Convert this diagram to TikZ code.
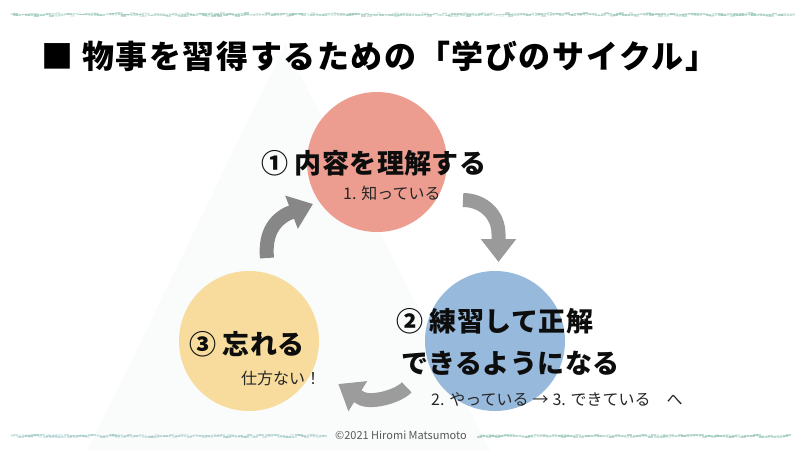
\documentclass[tikz,border=0pt]{standalone}
\usepackage{fontspec}
\setmainfont{Noto Sans CJK JP}
\usetikzlibrary{arrows.meta}
\definecolor{redc}{HTML}{EC9D8F}
\definecolor{bluec}{HTML}{97B9DB}
\definecolor{yelc}{HTML}{F7DC9E}
\definecolor{arrA}{HTML}{878787}
\definecolor{arrB}{HTML}{9A9A9A}
\definecolor{arrC}{HTML}{9C9C9C}
\definecolor{faint}{HTML}{FAFBFB}
\definecolor{brushA}{HTML}{7FB8AE}
\definecolor{brushB}{HTML}{A3CDB4}
\definecolor{brushC}{HTML}{8DBBD0}
\begin{document}
\begin{tikzpicture}[x=1pt,y=-1pt,
  cyc/.style={circle,inner sep=0pt,minimum size=140pt},
  lab/.style={font=\bfseries\fontsize{27}{30}\selectfont\addfontfeature{LetterSpace=1.5},inner sep=0pt,anchor=west,text=black!95},
  sublab/.style={font=\fontsize{16}{19}\selectfont,inner sep=0pt,anchor=west,text=black!85},
  cyarrow/.style={line width=14pt,-{Triangle[length=23pt,width=34pt]}}]
\useasboundingbox (0,0) rectangle (800,450);
\fill[white] (0,0) rectangle (800,450);
% faint background mountain
\fill[faint] (285,45) -- (88,450) -- (490,450) -- cycle;
% brush strokes
\pgfmathsetseed{7}
\foreach \i in {0,...,260} {
  \pgfmathsetmacro{\yy}{13.5+1.2*rand}
  \pgfmathsetmacro{\hh}{1+2*rnd}
  \pgfmathsetmacro{\op}{0.15+0.4*rnd}
  \fill[brushA,opacity=\op] (10+\i*3,\yy) rectangle ++(5,\hh);
  \pgfmathsetmacro{\yb}{13.5+1.2*rand}
  \pgfmathsetmacro{\ob}{0.1+0.3*rnd}
  \fill[brushB,opacity=\ob] (11+\i*3,\yb) rectangle ++(4,1.6);
}
\foreach \i in {0,...,104} {
  \pgfmathsetmacro{\yy}{435+1.3*rand}
  \pgfmathsetmacro{\op}{0.1+0.35*rnd}
  \fill[brushA,opacity=\op] (10+\i*3,\yy) rectangle ++(5,2);
  \pgfmathsetmacro{\yb}{435+1.3*rand}
  \fill[brushC,opacity=0.2] (11+\i*3,\yb) rectangle ++(4,1.5);
}
\foreach \i in {0,...,103} {
  \pgfmathsetmacro{\yy}{435+1*rand}
  \pgfmathsetmacro{\op}{0.15+0.4*rnd}
  \fill[brushA,opacity=\op] (477+\i*3,\yy) rectangle ++(5,2);
  \pgfmathsetmacro{\yb}{435+1*rand}
  \fill[brushB,opacity=0.25] (478+\i*3,\yb) rectangle ++(4,1.5);
}
% title
\node[font=\bfseries\fontsize{32}{36}\selectfont\addfontfeature{LetterSpace=5},inner sep=0pt,anchor=west] (title) at (41,56) {■ 物事を習得するための「学びのサイクル」};
% circles
\node[cyc,fill=redc] (c1) at (377,162) {};
\node[cyc,fill=bluec] (c2) at (495,341) {};
\node[cyc,fill=yelc] (c3) at (249,341) {};
% arrows
\coordinate (a1s) at (267,258);
\coordinate (a1e) at (313,204);
\draw[cyarrow,arrA] (a1s) .. controls (265.1,238) and (271,222) .. (288,213.5) -- (a1e);
\coordinate (a2s) at (463,200);
\coordinate (a2e) at (498.5,262);
\draw[cyarrow,arrB] (a2s) .. controls (482.5,200) and (498.5,214) .. (498.5,234) -- (a2e);
\coordinate (a3s) at (406.7,387.3);
\coordinate (a3e) at (338.3,384);
\draw[cyarrow,arrC] (a3s) .. controls (398.7,396.2) and (370.6,404.2) .. (360.4,397.8) -- (a3e);
% labels
\node[lab] (l1) at (261,163) {① 内容を理解する};
\node[sublab] (s1) at (343,193) {1. 知っている};
\node[lab] (l2a) at (396,321) {② 練習して正解};
\node[lab] (l2b) at (401,363) {できるようになる};
\node[sublab] (s2) at (431,399) {2. やっている\hspace{4pt}→\hspace{4pt}3. できている　へ};
\node[lab] (l3) at (189,344) {③ 忘れる};
\node[sublab] (s3) at (241,378) {仕方ない！};
\node[font=\fontsize{11}{13}\selectfont,text=black!65,inner sep=0pt] (copy) at (401,435) {©2021 Hiromi Matsumoto};
\end{tikzpicture}
\end{document}
